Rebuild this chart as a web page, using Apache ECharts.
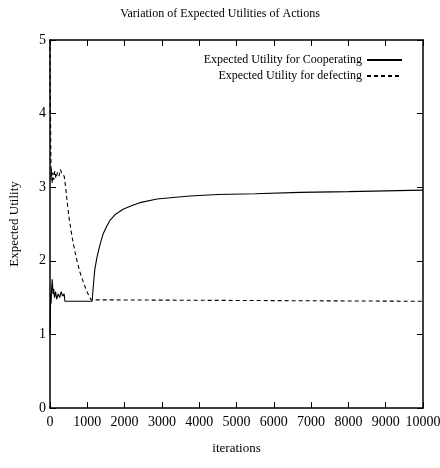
<!DOCTYPE html>
<html>
<head>
<meta charset="utf-8">
<script src="https://cdn.jsdelivr.net/npm/echarts@6/dist/echarts.min.js"></script>
<style>
  html, body { margin: 0; padding: 0; background: #fff; }
  #main { width: 440px; height: 468px; }
</style>
</head>
<body>
<div id="main"></div>
<script>
// values: [iteration, expected utility]
var coop_data = [
    [0, 1.0], [10, 1.3], [20, 1.55], [30, 1.42], [40, 1.6], [60, 1.75], [80, 1.55],
    [100, 1.62], [120, 1.5], [150, 1.58], [180, 1.48], [220, 1.55], [260, 1.5],
    [300, 1.58], [340, 1.52], [380, 1.55], [400, 1.45], [1130, 1.45], [1160, 1.65],
    [1200, 1.88], [1260, 2.05], [1340, 2.22], [1420, 2.36], [1520, 2.47], [1610, 2.55],
    [1750, 2.63], [1960, 2.7], [2200, 2.75], [2410, 2.79], [2870, 2.84], [3300, 2.86],
    [3750, 2.88], [4500, 2.9], [5500, 2.91], [6700, 2.93], [8000, 2.94], [10000, 2.96]
];
var defect_data = [
    [0, 5.0], [10, 4.2], [20, 3.6], [30, 3.1], [40, 3.25], [60, 3.05], [80, 3.2],
    [100, 3.1], [130, 3.22], [160, 3.12], [200, 3.2], [240, 3.15], [280, 3.24],
    [320, 3.18], [350, 3.2], [380, 3.15], [420, 3.0], [460, 2.8], [520, 2.55],
    [600, 2.3], [700, 2.05], [800, 1.85], [900, 1.7], [1000, 1.57], [1100, 1.47],
    [1130, 1.45], [10000, 1.45]
];
var legend_names = ['Expected Utility for Cooperating', 'Expected Utility for defecting'];

var font = '"Liberation Serif", "DejaVu Serif", serif';
var chart = echarts.init(document.getElementById('main'));

function axis_base(pos, show_label){
    return {
        type: 'value',
        position: pos,
        axisLine: { show: true, onZero: false, lineStyle: { color: '#000', width: 1.5 } },
        axisTick: { show: true, inside: true, length: 6, lineStyle: { color: '#000', width: 1 } },
        splitLine: { show: false },
        axisLabel: {
            show: show_label, color: '#000', fontFamily: font, fontSize: 14, margin: 7,
            formatter: function(v){ return String(v); }
        }
    };
}

var x_bottom = axis_base('bottom', true);
Object.assign(x_bottom, {
    min: 0, max: 10000, interval: 1000,
    name: 'iterations', nameLocation: 'middle', nameGap: 34,
    nameTextStyle: { color: '#000', fontFamily: font, fontSize: 13 }
});
var x_top = axis_base('top', false);
Object.assign(x_top, { min: 0, max: 10000, interval: 1000 });

var y_left = axis_base('left', true);
Object.assign(y_left, {
    min: 0, max: 5, interval: 1,
    name: 'Expected Utility', nameLocation: 'middle', nameGap: 29,
    nameTextStyle: { color: '#000', fontFamily: font, fontSize: 13 }
});
y_left.axisLabel.margin = 4;
var y_right = axis_base('right', false);
Object.assign(y_right, { min: 0, max: 5, interval: 1 });

var option = {
    animation: false,
    backgroundColor: '#fff',
    title: {
        text: 'Variation of Expected Utilities of Actions',
        left: 'center', top: 3,
        textStyle: { color: '#000', fontFamily: font, fontSize: 12, fontWeight: 'normal' }
    },
    legend: {
        data: legend_names,
        orient: 'vertical',
        right: 32, top: 49,
        align: 'right',
        itemWidth: 35, itemHeight: 10, itemGap: 4,
        itemStyle: { opacity: 0 },
        textStyle: { color: '#000', fontFamily: font, fontSize: 12 }
    },
    grid: { left: 50, right: 17, top: 40, bottom: 60, containLabel: false, outerBoundsMode: 'none' },
    xAxis: [x_bottom, x_top],
    yAxis: [y_left, y_right],
    series: [
        {
            name: legend_names[0], type: 'line', symbol: 'none',
            xAxisIndex: 0, yAxisIndex: 0, color: '#000',
            lineStyle: { color: '#000', width: 1.1, type: 'solid' },
            data: coop_data
        },
        {
            name: legend_names[1], type: 'line', symbol: 'none',
            xAxisIndex: 0, yAxisIndex: 0, color: '#000',
            lineStyle: { color: '#000', width: 1.1, type: [4, 3] },
            data: defect_data
        }
    ]
};
chart.setOption(option);
</script>
</body>
</html>
